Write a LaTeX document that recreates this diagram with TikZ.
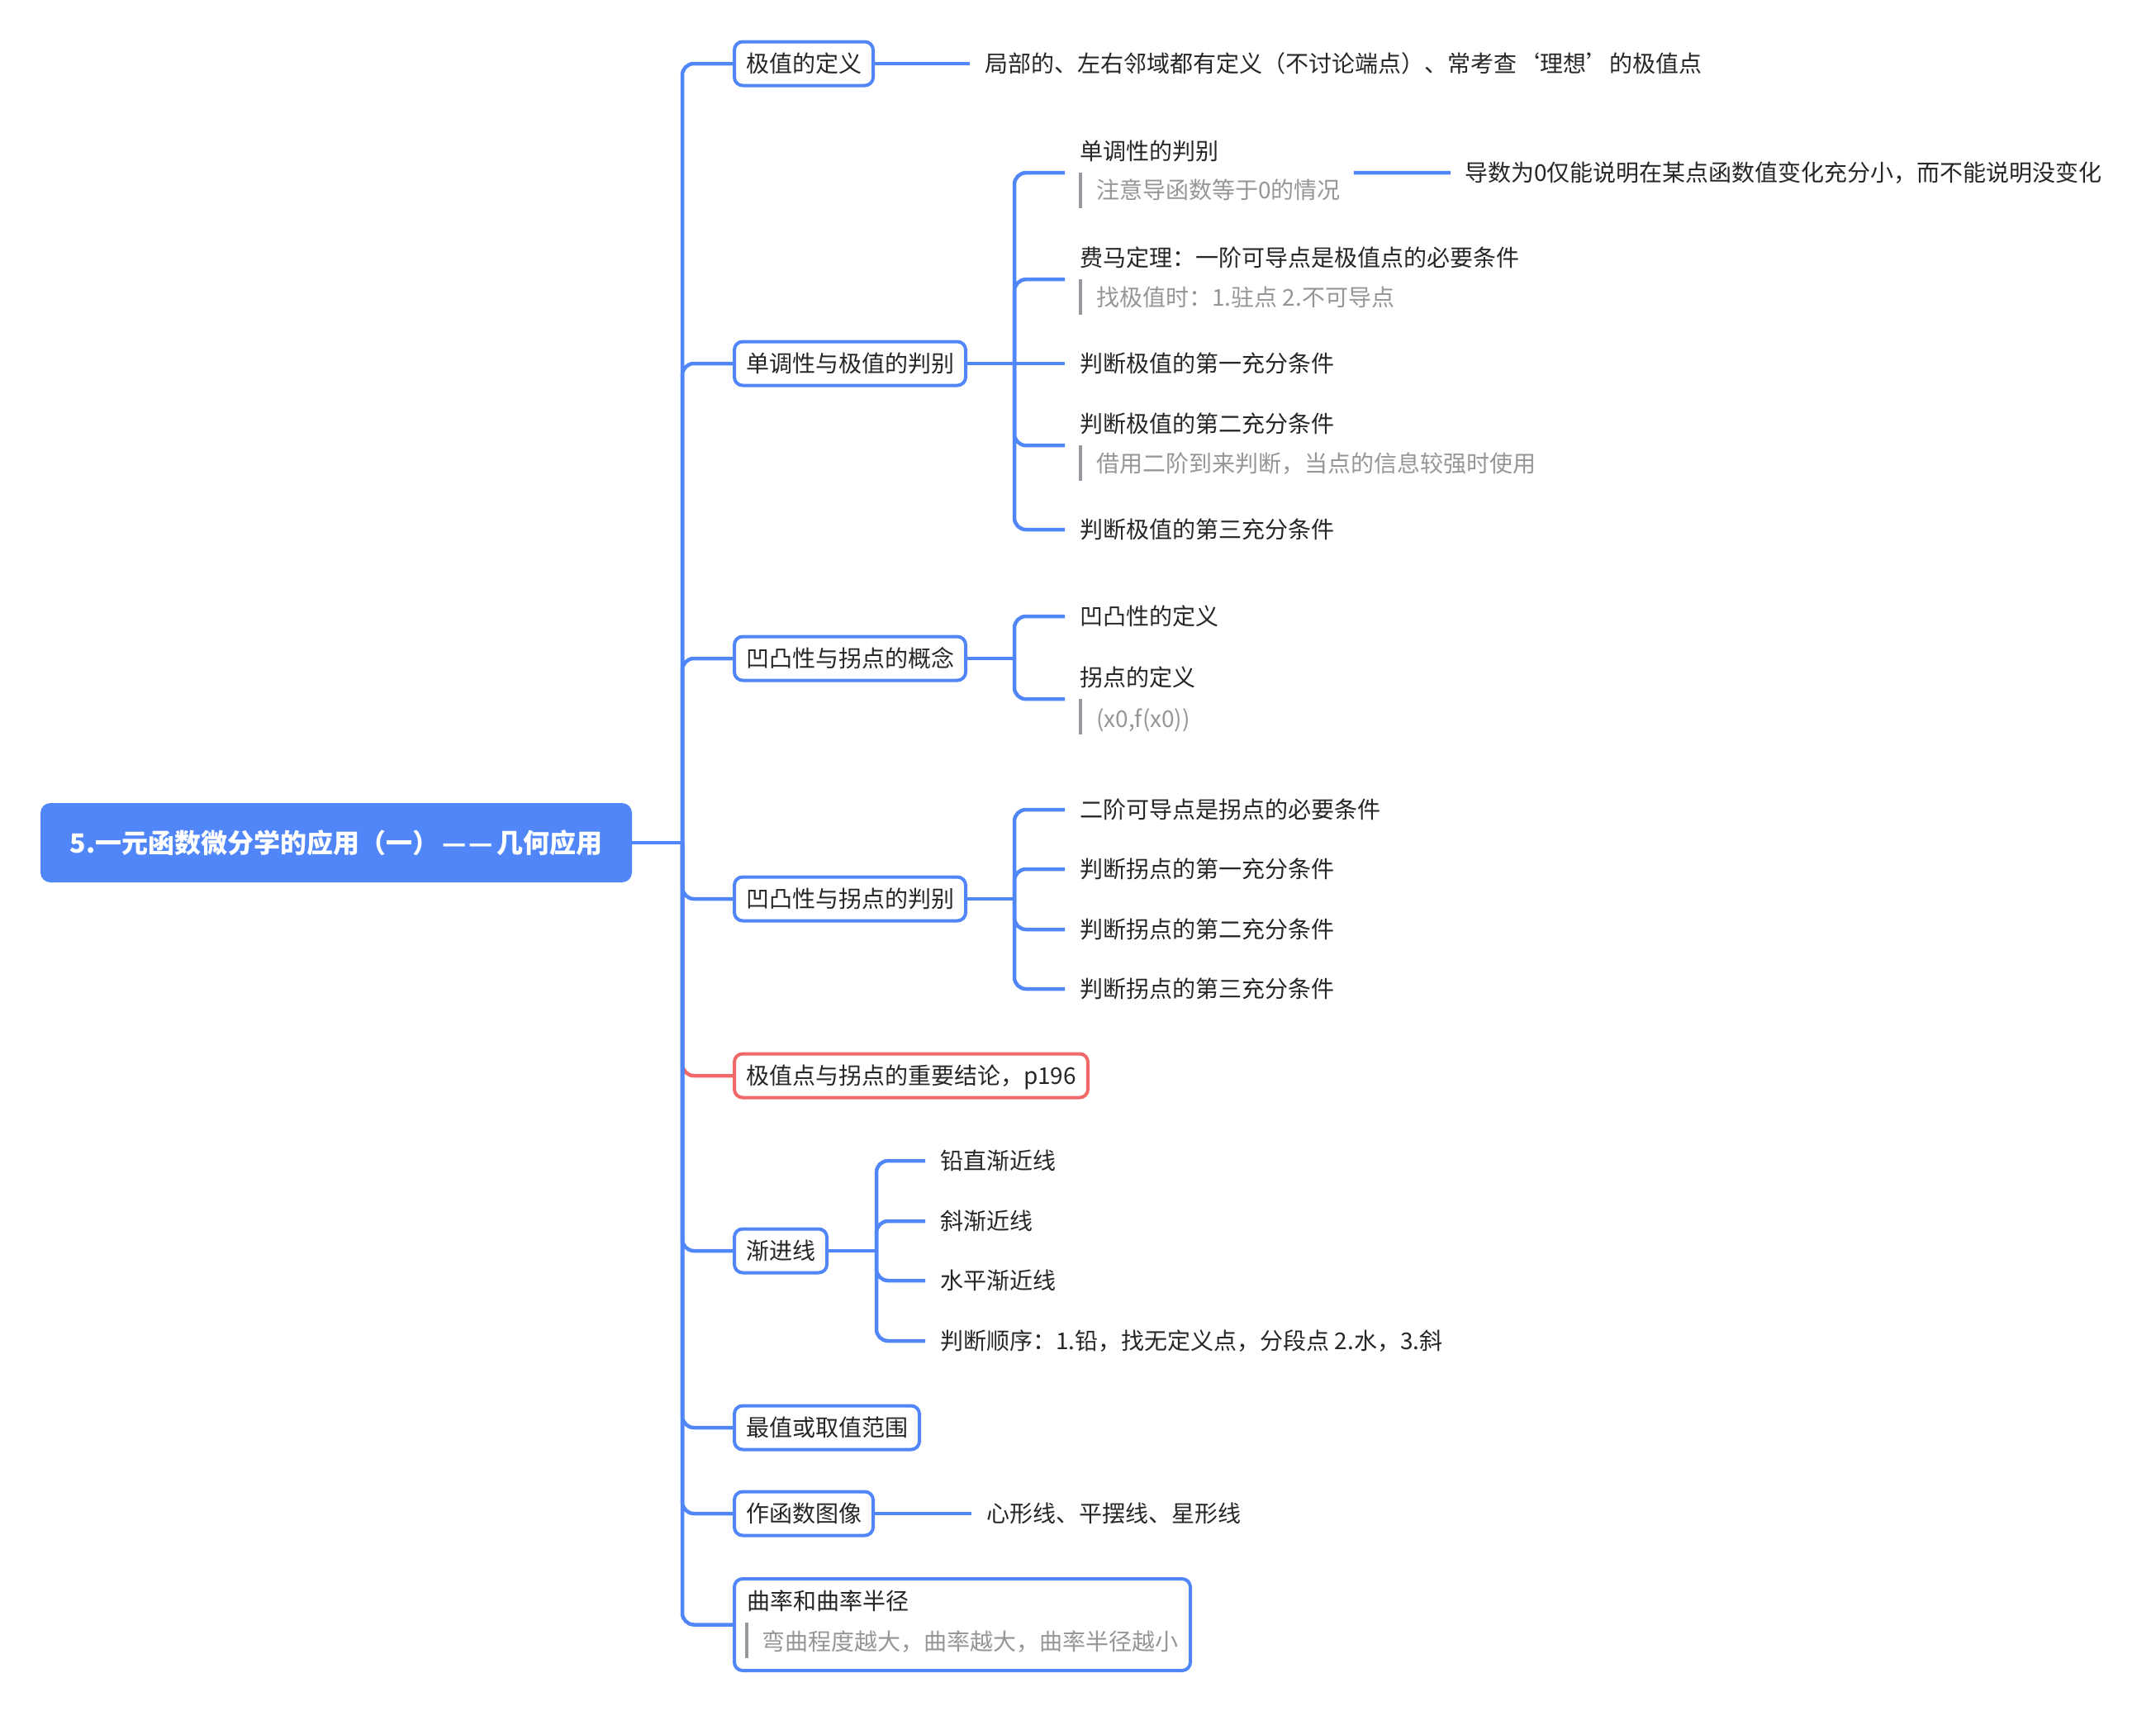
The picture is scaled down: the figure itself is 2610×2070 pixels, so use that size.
\documentclass[tikz,border=0pt]{standalone}
\usepackage{fontspec}
\setmainfont{Noto Sans CJK SC}
\usetikzlibrary{calc}
\definecolor{xblue}{RGB}{80,134,247}
\definecolor{xred}{RGB}{240,104,104}
\definecolor{xtext}{RGB}{38,38,38}
\definecolor{xgray}{RGB}{150,150,150}
\definecolor{xbar}{RGB}{150,152,158}
\begin{document}
\begin{tikzpicture}[x=1pt,y=-1pt,
  conn/.style={draw=xblue,line width=4.5pt,rounded corners=14pt},
  redconn/.style={conn,draw=xred},
  topicbox/.style={draw=xblue,line width=4pt,rounded corners=10pt,fill=white,text=xtext,
    font=\fontsize{28}{34}\selectfont,inner xsep=14pt,inner ysep=0pt,minimum height=53pt,
    text height=24pt,text depth=3pt,anchor=west},
  rootbox/.style={fill=xblue,rounded corners=12pt,text=white,font=\fontsize{32}{38}\selectfont\bfseries,
    minimum width=716pt,minimum height=96pt,inner sep=0pt},
  leaf/.style={text=xtext,font=\fontsize{28}{34}\selectfont,inner xsep=18pt,inner ysep=0pt,
    text height=24pt,text depth=3pt,anchor=west},
  titled/.style={leaf,minimum height=52pt},
  note/.style={text=xgray,font=\fontsize{28}{34}\selectfont,inner sep=0pt,
    text height=24pt,text depth=3pt,anchor=west},
  notebar/.style={draw=xbar,line width=4pt}]
\useasboundingbox (0,0) rectangle (2610,2070);

% root
\node[rootbox] (root) at (407,1020) {5.一元函数微分学的应用（一）\kern4pt—\kern3pt—\kern4pt几何应用};
\coordinate (tj) at (826,1020);

% level 1
\node[topicbox] (d1) at (887,77) {极值的定义};
\node[topicbox] (m) at (887,440) {单调性与极值的判别};
\node[topicbox] (c1) at (887,797) {凹凸性与拐点的概念};
\node[topicbox] (c2) at (887,1088) {凹凸性与拐点的判别};
\node[topicbox,draw=xred] (r) at (887,1302) {极值点与拐点的重要结论，p196};
\node[topicbox] (a) at (887,1514) {渐进线};
\node[topicbox] (z) at (887,1728) {最值或取值范围};
\node[topicbox] (g) at (887,1832) {作函数图像};
\node[draw=xblue,line width=4pt,rounded corners=10pt,fill=white,minimum width=552pt,minimum height=111pt,
  inner sep=0pt,anchor=north west] (k) at (887,1909) {};
\node[leaf,inner xsep=0pt] (kt) at (904,1938) {曲率和曲率半径};
\node[note] (kn) at (922,1987) {弯曲程度越大，曲率越大，曲率半径越小};
\draw[notebar] ($(kt.west)+(0,26)$) -- ++(0,43);

% trunk connectors
\draw[conn] (root.east) -- (tj);
\draw[redconn] (tj) |- (r.west);
\foreach \n in {d1,m,c1,c2,a,z,g,k} \draw[conn] (tj) |- (\n.west);

% 极值的定义
\node[leaf] (d1a) at (1174,77) {局部的、左右邻域都有定义（不讨论端点）、常考查‘理想’的极值点};
\draw[conn] (d1.east) -- (d1a.west);

% 单调性与极值的判别
\coordinate (mj) at (1228,440);
\draw[conn] (m.east) -- (mj);
\node[titled] (m1) at (1289,183) {单调性的判别};
\node[note] (m1n) at (1327,230) {注意导函数等于0的情况};
\draw[notebar] ([xshift=19pt]m1.south west) -- ++(0,43);
\draw[conn] (mj) |- (m1.south west);
\node[titled] (m2) at (1289,312) {费马定理：一阶可导点是极值点的必要条件};
\node[note] (m2n) at (1327,360) {找极值时：1.驻点 2.不可导点};
\draw[notebar] ([xshift=19pt]m2.south west) -- ++(0,43);
\draw[conn] (mj) |- (m2.south west);
\node[leaf] (m3) at (1289,440) {判断极值的第一充分条件};
\draw[conn] (mj) -- (m3.west);
\node[titled] (m4) at (1289,513) {判断极值的第二充分条件};
\node[note] (m4n) at (1327,561) {借用二阶到来判断，当点的信息较强时使用};
\draw[notebar] ([xshift=19pt]m4.south west) -- ++(0,43);
\draw[conn] (mj) |- (m4.south west);
\node[leaf] (m5) at (1289,641) {判断极值的第三充分条件};
\draw[conn] (mj) |- (m5.west);

\coordinate (m1r) at ($(m1n.east |- m1.south)+(16,0)$);
\node[leaf,inner xsep=17pt] (m1a) at (1756,209) {导数为0仅能说明在某点函数值变化充分小，而不能说明没变化};
\draw[conn] (m1r) -- (m1a.west);

% 凹凸性与拐点的概念
\coordinate (c1j) at (1228,797);
\draw[conn] (c1.east) -- (c1j);
\node[leaf] (c1a) at (1289,746) {凹凸性的定义};
\draw[conn] (c1j) |- (c1a.west);
\node[titled] (c1b) at (1289,820) {拐点的定义};
\node[note] (c1bn) at (1327,870) {(x0,f(x0))};
\draw[notebar] ([xshift=19pt]c1b.south west) -- ++(0,43);
\draw[conn] (c1j) |- (c1b.south west);

% 凹凸性与拐点的判别
\coordinate (c2j) at (1228,1088);
\draw[conn] (c2.east) -- (c2j);
\node[leaf] (c2a) at (1289,980) {二阶可导点是拐点的必要条件};
\node[leaf] (c2b) at (1289,1052) {判断拐点的第一充分条件};
\node[leaf] (c2c) at (1289,1125) {判断拐点的第二充分条件};
\node[leaf] (c2d) at (1289,1197) {判断拐点的第三充分条件};
\foreach \n in {c2a,c2b,c2c,c2d} \draw[conn] (c2j) |- (\n.west);

% 渐进线
\coordinate (aj) at (1061,1514);
\draw[conn] (a.east) -- (aj);
\node[leaf] (a1) at (1120,1405) {铅直渐近线};
\node[leaf] (a2) at (1120,1478) {斜渐近线};
\node[leaf] (a3) at (1120,1550) {水平渐近线};
\node[leaf] (a4) at (1120,1623) {判断顺序：1.铅，找无定义点，分段点 2.水，3.斜};
\foreach \n in {a1,a2,a3,a4} \draw[conn] (aj) |- (\n.west);

% 作函数图像
\node[leaf] (ga) at (1176,1832) {心形线、平摆线、星形线};
\draw[conn] (g.east) -- (ga.west);
\end{tikzpicture}
\end{document}
